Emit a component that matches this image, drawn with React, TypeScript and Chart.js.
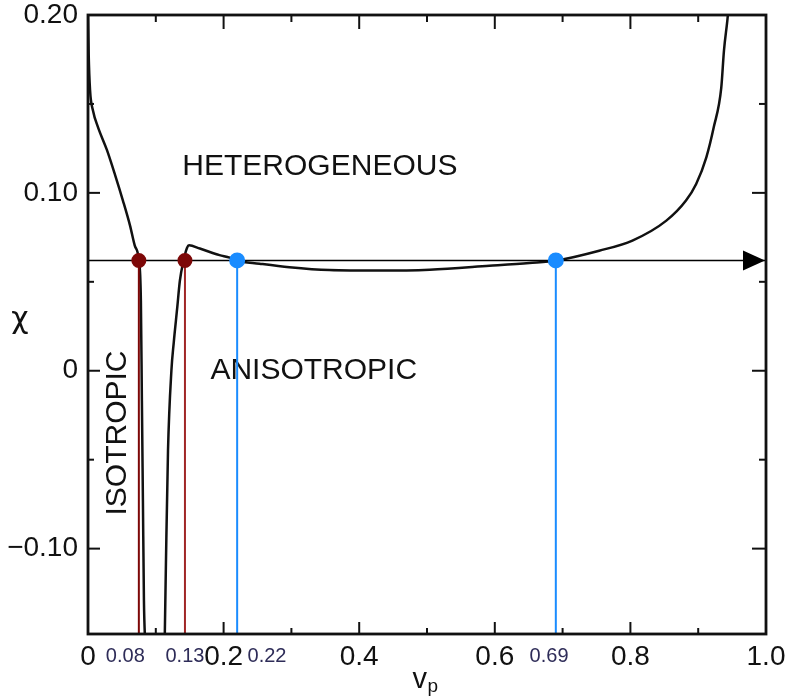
import React, { useEffect, useRef } from "react";
import { Chart, registerables } from "chart.js";

Chart.register(...registerables);

// ---- data ----
const X_MIN = 0;
const X_MAX = 1.0;
const Y_MIN = -0.148;
const Y_MAX = 0.2;

const xTickValues = [0, 0.2, 0.4, 0.6, 0.8, 1.0];
const xTickLabels = ["0", "0.2", "0.4", "0.6", "0.8", "1.0"];
const yTickValues = [-0.1, 0, 0.1, 0.2];
const yTickLabels = ["\u22120.10", "0", "0.10", "0.20"];
const xMinorTicks = [0.1, 0.3, 0.5, 0.7, 0.9];
const yMinorTicks = [-0.05, 0.05, 0.15];

// left branch of the boundary curve (isotropic / heterogeneous)
const leftBranchV = [0, 0.001, 0.003, 0.0075, 0.0147, 0.028, 0.04, 0.0515, 0.062, 0.069, 0.075, 0.078, 0.0795, 0.081, 0.0825, 0.0845];
const leftBranchChi = [0.2, 0.178, 0.158, 0.146, 0.137, 0.124, 0.11, 0.0957, 0.0816, 0.0703, 0.062, 0.0394, -0.017, -0.073, -0.129, -0.155];

// right branch of the boundary curve (anisotropic / heterogeneous)
const rightBranchV = [0.113, 0.115, 0.118, 0.123, 0.1265, 0.1315, 0.1355, 0.141, 0.146, 0.149, 0.165, 0.194, 0.209, 0.219, 0.253, 0.297, 0.356, 0.43, 0.504, 0.592, 0.651, 0.691, 0.754, 0.803, 0.853, 0.882, 0.897, 0.912, 0.923, 0.934, 0.938, 0.943, 0.945];
const rightBranchChi = [-0.155, -0.107, -0.045, 0.0, 0.016, 0.035, 0.0506, 0.062, 0.069, 0.0705, 0.0687, 0.065, 0.0636, 0.062, 0.0602, 0.0582, 0.0566, 0.0563, 0.0568, 0.059, 0.0606, 0.062, 0.0675, 0.0732, 0.0844, 0.0957, 0.105, 0.12, 0.137, 0.159, 0.18, 0.197, 0.205];

const chiLine = 0.062;
const markerV = [0.075, 0.143, 0.22, 0.69];
const markerLabels = ["0.08", "0.13", "0.22", "0.69"];
const markerLineColors = ["#7d0808", "#a02626", "#1a8cff", "#1a8cff"];
const markerDotColors = ["#7d0808", "#7d0808", "#1a8cff", "#1a8cff"];

const regionLabels = ["HETEROGENEOUS", "ANISOTROPIC", "ISOTROPIC"];

const FONT = "'Liberation Sans', Arial, Helvetica, sans-serif";

const toPts = (xs: number[], ys: number[]) => xs.map((x, i) => ({ x, y: ys[i] }));

const decorPlugin = {
  id: "decor",
  beforeDatasetsDraw(chart: any) {
    const { ctx, scales } = chart;
    const xs = scales.x;
    const ys = scales.y;
    const anchors = [
      { v: 0.342, c: 0.1145, rot: 0 },
      { v: 0.333, c: 0.0, rot: 0 },
      { v: 0.044, c: -0.035, rot: -Math.PI / 2 },
    ];
    ctx.save();
    ctx.fillStyle = "#111";
    ctx.font = `30px ${FONT}`;
    ctx.textAlign = "center";
    ctx.textBaseline = "middle";
    regionLabels.forEach((t, i) => {
      const a = anchors[i];
      ctx.save();
      ctx.translate(xs.getPixelForValue(a.v), ys.getPixelForValue(a.c));
      ctx.rotate(a.rot);
      ctx.fillText(t, 0, 0);
      ctx.restore();
    });
    ctx.restore();
  },
  afterDatasetsDraw(chart: any) {
    const { ctx, chartArea: ca, scales } = chart;
    const xs = scales.x;
    const ys = scales.y;
    ctx.save();
    // frame
    ctx.strokeStyle = "#111";
    ctx.lineWidth = 2.8;
    ctx.strokeRect(ca.left, ca.top, ca.right - ca.left, ca.bottom - ca.top);
    // inward ticks
    ctx.lineWidth = 2;
    const tick = (x1: number, y1: number, x2: number, y2: number) => {
      ctx.beginPath();
      ctx.moveTo(x1, y1);
      ctx.lineTo(x2, y2);
      ctx.stroke();
    };
    xTickValues.forEach((v) => {
      if (v <= X_MIN || v >= X_MAX) return;
      const px = xs.getPixelForValue(v);
      tick(px, ca.bottom, px, ca.bottom - 12);
      tick(px, ca.top, px, ca.top + 14);
    });
    xMinorTicks.forEach((v) => {
      const px = xs.getPixelForValue(v);
      tick(px, ca.bottom, px, ca.bottom - 6);
      tick(px, ca.top, px, ca.top + 7);
    });
    yTickValues.forEach((v) => {
      if (v >= Y_MAX) return;
      const py = ys.getPixelForValue(v);
      tick(ca.left, py, ca.left + 12, py);
      tick(ca.right, py, ca.right - 14, py);
    });
    yMinorTicks.forEach((v) => {
      const py = ys.getPixelForValue(v);
      tick(ca.left, py, ca.left + 6, py);
      tick(ca.right, py, ca.right - 7, py);
    });
    // arrow head at the end of the horizontal line
    const tipX = xs.getPixelForValue(X_MAX) - 1;
    const ay = ys.getPixelForValue(chiLine);
    ctx.fillStyle = "#000";
    ctx.beginPath();
    ctx.moveTo(tipX, ay);
    ctx.lineTo(tipX - 22, ay - 10);
    ctx.lineTo(tipX - 22, ay + 10);
    ctx.closePath();
    ctx.fill();
    ctx.restore();
  },
  afterDraw(chart: any) {
    const { ctx, chartArea: ca, scales } = chart;
    const xs = scales.x;
    const ys = scales.y;
    ctx.save();
    // marker value labels under the axis
    const labelAt = [0.055, 0.143, 0.264, 0.68];
    ctx.fillStyle = "#2e2c58";
    ctx.font = `20px ${FONT}`;
    ctx.textAlign = "center";
    ctx.textBaseline = "middle";
    markerLabels.forEach((t, i) => {
      ctx.fillText(t, xs.getPixelForValue(labelAt[i]), ca.bottom + 22);
    });
    // x axis title: v_p
    const cx = (ca.left + ca.right) / 2;
    ctx.fillStyle = "#111";
    ctx.textBaseline = "alphabetic";
    ctx.textAlign = "right";
    ctx.font = `29px ${FONT}`;
    ctx.fillText("v", cx, ca.bottom + 54);
    ctx.textAlign = "left";
    ctx.font = `19px ${FONT}`;
    ctx.fillText("p", cx + 0.5, ca.bottom + 58);
    // y axis title: chi
    ctx.textAlign = "center";
    ctx.font = `30px 'DejaVu Sans', sans-serif`;
    ctx.fillText("\u03c7", ca.left - 68, ys.getPixelForValue(0) - 43);
    ctx.restore();
  },
};

export default function App() {
  const canvasRef = useRef<HTMLCanvasElement | null>(null);

  useEffect(() => {
    if (!canvasRef.current) return;
    const markerSets = markerV.map((v, i) => ({
      label: "marker " + markerLabels[i],
      data: [
        { x: v, y: chiLine },
        { x: v, y: Y_MIN - 0.01 },
      ],
      borderColor: markerLineColors[i],
      backgroundColor: markerDotColors[i],
      pointBackgroundColor: markerDotColors[i],
      pointBorderColor: markerDotColors[i],
      borderWidth: 2,
      pointRadius: [i < 2 ? 6.5 : 7, 0],
      pointHoverRadius: 0,
      showLine: true,
      fill: false,
      order: 0,
    }));
    const chart = new Chart(canvasRef.current, {
      type: "scatter",
      data: {
        datasets: [
          ...markerSets,
          {
            label: "chi line",
            data: [
              { x: X_MIN, y: chiLine },
              { x: X_MAX, y: chiLine },
            ],
            borderColor: "#000",
            borderWidth: 1.6,
            pointRadius: 0,
            showLine: true,
            order: 1,
          },
          {
            label: "boundary left",
            data: toPts(leftBranchV, leftBranchChi),
            borderColor: "#111",
            borderWidth: 2.5,
            pointRadius: 0,
            showLine: true,
            cubicInterpolationMode: "monotone",
            order: 2,
          },
          {
            label: "boundary right",
            data: toPts(rightBranchV, rightBranchChi),
            borderColor: "#111",
            borderWidth: 2.5,
            pointRadius: 0,
            showLine: true,
            cubicInterpolationMode: "monotone",
            order: 2,
          },
        ],
      },
      options: {
        animation: false,
        responsive: true,
        maintainAspectRatio: false,
        events: [],
        layout: { padding: { top: 15, right: 21, left: 0, bottom: 0 } },
        plugins: {
          legend: { display: false },
          title: { display: false },
          tooltip: { enabled: false },
        },
        scales: {
          x: {
            type: "linear",
            min: X_MIN,
            max: X_MAX,
            afterBuildTicks: (s: any) => {
              s.ticks = xTickValues.map((v) => ({ value: v }));
            },
            afterFit: (s: any) => {
              s.height = 65;
              s.paddingLeft = 0;
              s.paddingRight = 0;
            },
            ticks: {
              autoSkip: false,
              maxRotation: 0,
              padding: 6,
              color: "#111",
              font: { family: FONT, size: 28 },
              callback: (v: any) => xTickLabels[xTickValues.indexOf(Number(v))] ?? "",
            },
            grid: { display: false, drawTicks: false },
            border: { display: false },
          },
          y: {
            type: "linear",
            min: Y_MIN,
            max: Y_MAX,
            afterBuildTicks: (s: any) => {
              s.ticks = yTickValues.map((v) => ({ value: v }));
            },
            afterFit: (s: any) => {
              s.width = 88;
              s.paddingTop = 0;
              s.paddingBottom = 0;
            },
            ticks: {
              autoSkip: false,
              padding: 10,
              color: "#111",
              font: { family: FONT, size: 28 },
              callback: (v: any) => yTickLabels[yTickValues.indexOf(Number(v))] ?? "",
            },
            grid: { display: false, drawTicks: false },
            border: { display: false },
          },
        },
      },
      plugins: [decorPlugin],
    });
    return () => chart.destroy();
  }, []);

  return (
    <div style={{ position: "absolute", left: 0, top: 0, width: 787, height: 699, background: "#fff" }}>
      <canvas ref={canvasRef} />
    </div>
  );
}
